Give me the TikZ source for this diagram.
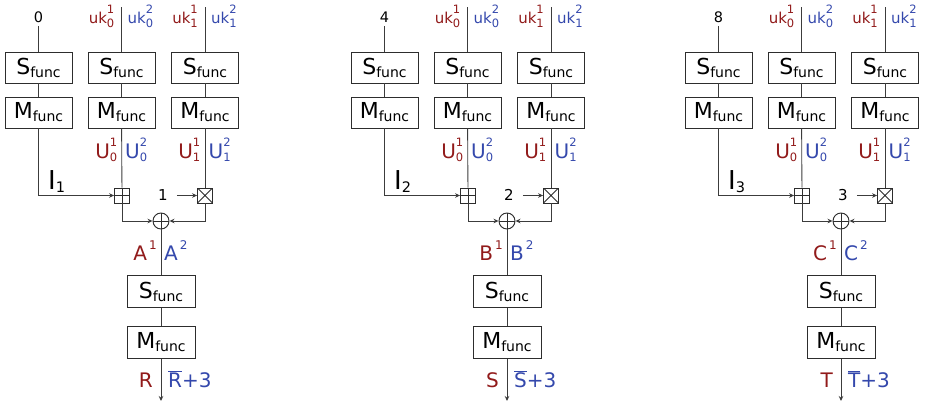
\documentclass[tikz,border=0pt]{standalone}
\usepackage{fontspec}
\setmainfont{DejaVu Sans}
\usetikzlibrary{arrows.meta}

\definecolor{keyred}{RGB}{145,26,26}
\definecolor{keyblue}{RGB}{52,72,172}
\definecolor{ink}{RGB}{45,45,45}
\definecolor{wirec}{RGB}{60,60,60}

\newcommand\fs[1]{\fontsize{#1}{#1}\selectfont}
% box captions
\newcommand\Sfn{{\fs{22}S}\raisebox{-3pt}{\fs{14}func}}
\newcommand\Mfn{{\fs{22}M}\raisebox{-3pt}{\fs{14}func}}
% {size}{base}{sup}{sub}{raise}{drop}{index size}
\newcommand\idx[7]{{\fs{#1}#2}\rlap{\raisebox{#5}{\fs{#7}#3}}\raisebox{-#6}{\fs{#7}#4}}

\tikzset{
  wire/.style={draw=wirec, line width=0.85pt},
  arr/.style={wire, -{Stealth[length=5pt,width=4.5pt]}},
  topbox/.style={draw=ink, line width=0.95pt, fill=white, minimum width=67pt,
    minimum height=31pt, inner sep=0pt},
  lowbox/.style={topbox, minimum width=68pt, minimum height=32pt},
  lab/.style={inner sep=0pt},
  addsq/.style={draw=ink, line width=0.85pt, minimum size=15pt, inner sep=0pt,
    path picture={\draw[ink, line width=0.85pt]
      (path picture bounding box.north) -- (path picture bounding box.south)
      (path picture bounding box.west) -- (path picture bounding box.east);}},
  mulsq/.style={draw=ink, line width=0.85pt, minimum size=15pt, inner sep=0pt,
    path picture={\draw[ink, line width=0.85pt]
      (path picture bounding box.north west) -- (path picture bounding box.south east)
      (path picture bounding box.south west) -- (path picture bounding box.north east);}},
  xorc/.style={circle, draw=ink, line width=0.95pt, minimum size=16pt, inner sep=0pt,
    path picture={\draw[ink, line width=0.95pt]
      (path picture bounding box.north) -- (path picture bounding box.south)
      (path picture bounding box.west) -- (path picture bounding box.east);}},
}

\begin{document}
\begin{tikzpicture}[x=1pt,y=-1pt]
\useasboundingbox (0,0) rectangle (928,405);

\foreach \ox/\num/\rnd/\L/\O [count=\i] in {0/0/1/A/R, 346/4/2/B/S, 680/8/3/C/T}{
  % three round-key branches
  \node[topbox] (S1-\i) at (\ox+38.5,67.5) {\Sfn};
  \node[topbox] (S2-\i) at (\ox+121.5,67.5) {\Sfn};
  \node[topbox] (S3-\i) at (\ox+205,67.5) {\Sfn};
  \node[topbox] (M1-\i) at (\ox+38.5,112.5) {\Mfn};
  \node[topbox] (M2-\i) at (\ox+121.5,112.5) {\Mfn};
  \node[topbox] (M3-\i) at (\ox+205,112.5) {\Mfn};

  % inputs
  \node[lab, anchor=base] (in-\i) at (\ox+38.5,22) {\fs{14.5}\num};
  \coordinate (k0-\i) at (\ox+121.5,7);
  \coordinate (k1-\i) at (\ox+205,7);
  \draw[wire] ([yshift=-4pt]in-\i.south) -- (S1-\i);
  \draw[wire] (k0-\i) -- (S2-\i);
  \draw[wire] (k1-\i) -- (S3-\i);

  \node[lab, anchor=base east, text=keyred] at (\ox+114.5,23) {\idx{15}{uk}{1}{0}{10pt}{4pt}{11.5}};
  \node[lab, anchor=base west, text=keyblue] at (\ox+127.5,23) {\idx{15}{uk}{2}{0}{10pt}{4pt}{11.5}};
  \node[lab, anchor=base east, text=keyred] at (\ox+198,23) {\idx{15}{uk}{1}{1}{10pt}{4pt}{11.5}};
  \node[lab, anchor=base west, text=keyblue] at (\ox+211,23) {\idx{15}{uk}{2}{1}{10pt}{4pt}{11.5}};

  \draw[wire] (S1-\i) -- (M1-\i);
  \draw[wire] (S2-\i) -- (M2-\i);
  \draw[wire] (S3-\i) -- (M3-\i);

  % branch outputs
  \node[lab, anchor=base east, text=keyred] at (\ox+117.5,158) {\idx{20}{U}{1}{0}{12pt}{3pt}{11.5}};
  \node[lab, anchor=base west, text=keyblue] at (\ox+125,158) {\idx{20}{U}{2}{0}{12pt}{3pt}{11.5}};
  \node[lab, anchor=base east, text=keyred] at (\ox+200.5,158) {\idx{20}{U}{1}{1}{12pt}{3pt}{11.5}};
  \node[lab, anchor=base west, text=keyblue] at (\ox+208.5,158) {\idx{20}{U}{2}{1}{12pt}{3pt}{11.5}};

  \node[lab, anchor=base west] at (\ox+48,189) {{\fs{26}I}\raisebox{-3pt}{\fs{14.5}\rnd}};

  % combining operations
  \node[addsq] (add-\i) at (\ox+122,195.5) {};
  \node[mulsq] (mul-\i) at (\ox+205,195.5) {};
  \node[xorc] (xor-\i) at (\ox+161,221) {};
  \node[lab, anchor=base] (rc-\i) at (\ox+163,200.5) {\fs{15}\rnd};

  \draw[arr] (M1-\i) |- (add-\i);
  \draw[wire] (M2-\i) -- (add-\i);
  \draw[wire] (M3-\i) -- (mul-\i);
  \draw[arr] ([xshift=9pt]rc-\i.east |- mul-\i) -- (mul-\i);
  \draw[arr] (add-\i) |- (xor-\i);
  \draw[arr] (mul-\i) |- (xor-\i);

  % state words
  \node[lab, anchor=base east, text=keyred] at (\ox+157,260) {{\fs{20}\L}\hspace{2pt}\raisebox{11pt}{\fs{12}1}};
  \node[lab, anchor=base west, text=keyblue] at (\ox+164,260) {{\fs{20}\L}\hspace{2pt}\raisebox{11pt}{\fs{12}2}};

  % final round function
  \node[lowbox] (SB-\i) at (\ox+161,291.5) {\Sfn};
  \node[lowbox] (MB-\i) at (\ox+161,342.5) {\Mfn};
  \coordinate (out-\i) at (\ox+161,401);
  \draw[wire] (xor-\i) -- (SB-\i);
  \draw[wire] (SB-\i) -- (MB-\i);
  \draw[arr] (MB-\i) -- (out-\i);

  \node[lab, anchor=base east, text=keyred] at (\ox+153,387) {\fs{20}\O};
  \node[lab, anchor=base west, text=keyblue] at (\ox+168,387) {\fs{20}$\overline{\hbox{\O}}$+3};
}
\end{tikzpicture}
\end{document}
